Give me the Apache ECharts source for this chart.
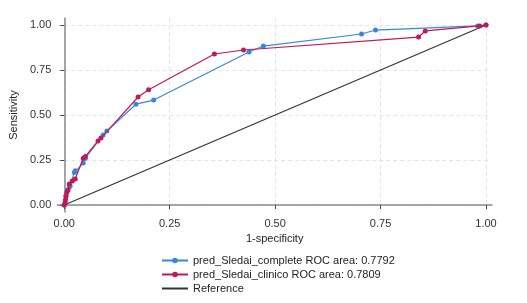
<!DOCTYPE html>
<html>
<head>
<meta charset="utf-8">
<script src="https://cdn.jsdelivr.net/npm/echarts@6/dist/echarts.min.js"></script>
<style>
  html, body { margin: 0; padding: 0; background: #fff; }
  #chart { width: 527px; height: 303px; }
</style>
</head>
<body>
<div id="chart"></div>
<script>
// ROC points: [1-specificity, sensitivity]
const completeRoc = [
  [0, 0], [0.002, 0.02], [0.004, 0.05], [0.007, 0.08], [0.012, 0.1], [0.014, 0.106],
  [0.024, 0.18], [0.026, 0.19], [0.045, 0.233], [0.05, 0.26], [0.092, 0.389],
  [0.101, 0.411], [0.17, 0.56], [0.212, 0.583], [0.438, 0.85], [0.472, 0.883],
  [0.705, 0.95], [0.738, 0.972], [0.98, 0.995], [1, 1]
]
const clinicoRoc = [
  [0, 0], [0.002, 0.01], [0.003, 0.03], [0.004, 0.05], [0.006, 0.07], [0.009, 0.083],
  [0.012, 0.117], [0.019, 0.133], [0.026, 0.144], [0.045, 0.26], [0.05, 0.27],
  [0.08, 0.356], [0.087, 0.372], [0.175, 0.6], [0.2, 0.64], [0.356, 0.839],
  [0.425, 0.861], [0.84, 0.933], [0.856, 0.967], [0.985, 0.995], [1, 1]
]
const referenceLine = [[0, 0], [1, 1]]
const seriesNames = [
  'pred_Sledai_complete ROC area: 0.7792',
  'pred_Sledai_clinico ROC area: 0.7809',
  'Reference'
]
const tickValues = [0, 0.25, 0.5, 0.75, 1]
const tickLabels = ['0.00', '0.25', '0.50', '0.75', '1.00']

const chart = echarts.init(document.getElementById('chart'))
const font = 'Liberation Sans, Arial, sans-serif'

const axisCommon = {
  type: 'value',
  nameLocation: 'middle',
  nameTextStyle: { color: '#222', fontSize: 11, fontFamily: font },
  axisLine: { show: true, lineStyle: { color: '#8a8a8a', width: 1.5 } },
  axisTick: { show: true, length: 4, customValues: tickValues, lineStyle: { color: '#444' } },
  axisLabel: {
    color: '#333',
    fontSize: 11,
    fontFamily: font,
    margin: 6,
    customValues: tickValues,
    formatter: (v) => tickLabels[Math.round(v * 4)]
  },
  splitLine: { show: true, lineStyle: { color: '#e4e4e4', type: [4, 3] } }
}

chart.setOption({
  animation: false,
  backgroundColor: '#fff',
  // axes run a few pixels past the 0..1 data range, as in the original
  grid: { left: 55, right: 35, top: 18, bottom: 91 },
  xAxis: Object.assign({}, axisCommon, {
    min: -0.0165, max: 1.0142, name: '1-specificity', nameGap: 21
  }),
  yAxis: Object.assign({}, axisCommon, {
    min: -0.0389, max: 1.0389, name: 'Sensitivity', nameGap: 30
  }),
  legend: {
    orient: 'vertical',
    left: 156,
    top: 250,
    height: 60,
    itemWidth: 26,
    itemHeight: 7,
    itemGap: 3,
    textStyle: { color: '#222', fontSize: 11, fontFamily: font },
    data: [
      { name: seriesNames[0] },
      { name: seriesNames[1] },
      { name: seriesNames[2], itemStyle: { opacity: 0 } }
    ]
  },
  series: [
    {
      name: seriesNames[0],
      type: 'line',
      data: completeRoc,
      symbol: 'circle',
      symbolSize: 5,
      color: '#3a87d9',
      lineStyle: { width: 1.2 },
      z: 3
    },
    {
      name: seriesNames[1],
      type: 'line',
      data: clinicoRoc,
      symbol: 'circle',
      symbolSize: 5,
      color: '#c1185a',
      lineStyle: { width: 1.2 },
      z: 4
    },
    {
      name: seriesNames[2],
      type: 'line',
      data: referenceLine,
      symbol: 'none',
      color: '#333',
      lineStyle: { width: 1.2 },
      z: 2
    }
  ]
})
</script>
</body>
</html>
